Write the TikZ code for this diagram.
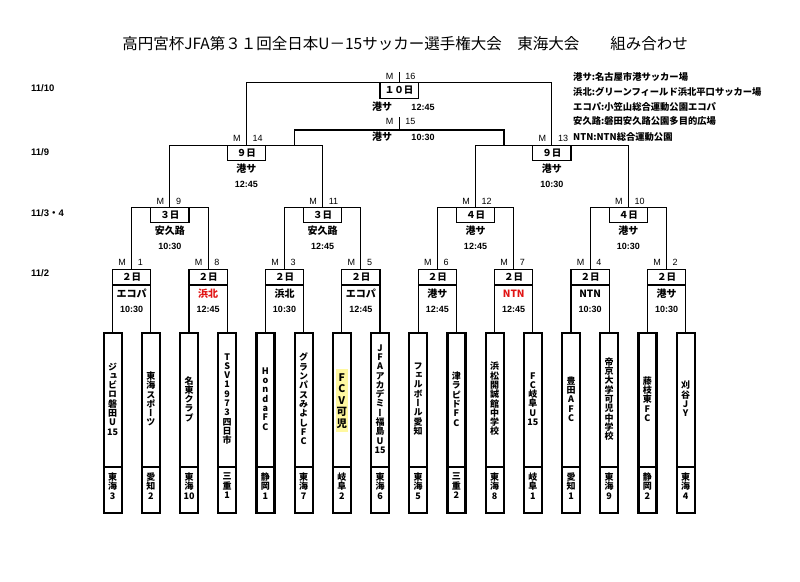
\documentclass[tikz,border=0pt]{standalone}
\usepackage{fontspec}
\setmainfont{Noto Sans CJK JP}
\newfontfamily\jpv[RawFeature=+vert]{Noto Sans CJK JP}
\newfontfamily\arl{Liberation Sans}
\definecolor{hlyellow}{RGB}{255,248,160}
\definecolor{redtxt}{RGB}{225,20,20}
\tikzset{
  brline/.style={line width=1.1pt},
  teambox/.style={line width=2.2pt},
  datebox/.style={draw, line width=1.1pt, minimum width=38.2pt, minimum height=15.6pt,
    inner sep=0pt, outer sep=0pt, anchor=north, font=\bfseries\fontsize{9.5}{10}\selectfont},
  venue/.style={font=\bfseries\fontsize{10}{11}\selectfont, inner sep=0pt},
  tmlab/.style={font=\arl\bfseries\fontsize{9}{10}\selectfont, inner sep=0pt},
  mlab/.style={font=\arl\fontsize{9}{10}\selectfont, inner sep=0pt},
  teamtxt/.style={font=\jpv\bfseries\fontsize{9}{9.3}\selectfont, align=center, inner sep=0pt},
  regtxt/.style={font=\bfseries\fontsize{9}{9.5}\selectfont, align=center, inner sep=0pt},
  datelab/.style={font=\arl\bfseries\fontsize{9.5}{10}\selectfont, anchor=west, inner sep=0pt},
  legend/.style={font=\bfseries\fontsize{9.3}{10}\selectfont, anchor=west, inner sep=0pt},
}
\begin{document}
\begin{tikzpicture}[x=1pt,y=-1pt]
\fill[white] (0,0) rectangle (800,581);
\useasboundingbox (0,0) rectangle (800,581);

% title
\node[inner sep=0pt] (title) at (405,44) {\fontsize{15.5}{16}\selectfont 高円宮杯JFA第３１回全日本U－15サッカー選手権大会　東海大会　　組み合わせ};

% legend
\node[legend] (lg1) at (573,76.5) {港サ:名古屋市港サッカー場};
\node[legend] (lg2) at (573,92) {浜北:グリーンフィールド浜北平口サッカー場};
\node[legend] (lg3) at (573,106.5) {エコパ:小笠山総合運動公園エコパ};
\node[legend] (lg4) at (573,121) {安久路:磐田安久路公園多目的広場};
\node[legend] (lg5) at (573,136.5) {NTN:NTN総合運動公園};

% dates
\node[datelab] (dt1) at (31,88) {11/10};
\node[datelab] (dt2) at (31,152) {11/9};
\node[datelab] (dt3) at (31,213) {11/3{\rmfamily ・}4};
\node[datelab] (dt4) at (31,273) {11/2};

% highlight behind FCV
\fill[hlyellow] (335.8,369) rectangle (347.8,432);

% teams
\foreach \i/\nm/\rg in {
  1/{ジ\\ュ\\ビ\\ロ\\磐\\田\\U\\15}/{東\\海\\3},
  2/{東\\海\\ス\\ポ\\ー\\ツ}/{愛\\知\\2},
  3/{名\\東\\ク\\ラ\\ブ}/{東\\海\\10},
  4/{T\\S\\V\\1\\9\\7\\3\\四\\日\\市}/{三\\重\\1},
  5/{H\\o\\n\\d\\a\\F\\C}/{静\\岡\\1},
  6/{グ\\ラ\\ン\\パ\\ス\\み\\よ\\し\\F\\C}/{東\\海\\7},
  7/{}/{岐\\阜\\2},
  8/{J\\F\\A\\ア\\カ\\デ\\ミ\\ー\\福\\島\\U\\15}/{東\\海\\6},
  9/{フ\\ェ\\ル\\ボ\\ー\\ル\\愛\\知}/{東\\海\\5},
  10/{津\\ラ\\ピ\\ド\\F\\C}/{三\\重\\2},
  11/{浜\\松\\開\\誠\\館\\中\\学\\校}/{東\\海\\8},
  12/{F\\C\\岐\\阜\\U\\15}/{岐\\阜\\1},
  13/{豊\\田\\A\\F\\C}/{愛\\知\\1},
  14/{帝\\京\\大\\学\\可\\児\\中\\学\\校}/{東\\海\\9},
  15/{藤\\枝\\東\\F\\C}/{静\\岡\\2},
  16/{刈\\谷\\J\\Y}/{東\\海\\4}}{
  \pgfmathsetmacro\cx{112.6+38.2*(\i-1)}
  \coordinate (t\i) at (\cx,332.7);
  \draw[teambox] (\cx-9,332.7) rectangle (\cx+9,512.7);
  \draw[teambox] (\cx-9,466.7) -- (\cx+9,466.7);
  \node[teamtxt] (nm\i) at (\cx,399) {\nm};
  \node[regtxt] (rg\i) at (\cx,486) {\rg};
}
\node[teamtxt, font=\jpv\bfseries\fontsize{10.5}{11.5}\selectfont] (nm7b) at (341.8,401) {F\\C\\V\\可\\児};

% match coordinates
\coordinate (f) at (399.1,82.7);
\coordinate (ftop) at (399.1,72);
\coordinate (h) at (399.1,130);
\coordinate (htop) at (399.1,117);
\coordinate (hl) at (294.3,145.3);
\coordinate (hr) at (504,145.3);
\coordinate (s1) at (246.3,145.3);
\coordinate (s2) at (551.9,145.3);
\coordinate (q1) at (169.9,207.3);
\coordinate (q2) at (322.7,207.3);
\coordinate (q3) at (475.5,207.3);
\coordinate (q4) at (628.3,207.3);
\coordinate (r1) at (131.7,269.3);
\coordinate (r2) at (208.1,269.3);
\coordinate (r3) at (284.5,269.3);
\coordinate (r4) at (360.9,269.3);
\coordinate (r5) at (437.3,269.3);
\coordinate (r6) at (513.7,269.3);
\coordinate (r7) at (590.1,269.3);
\coordinate (r8) at (666.5,269.3);

% bracket lines
\draw[brline] (ftop) -- (f);
\draw[brline] (s1) |- (f) -| (s2);
\draw[brline] (htop) -- (h);
\draw[brline] (hl) |- (h) -| (hr);
\draw[brline] (q1) |- (s1) -| (q2);
\draw[brline] (q3) |- (s2) -| (q4);
\draw[brline] (r1) |- (q1) -| (r2);
\draw[brline] (r3) |- (q2) -| (r4);
\draw[brline] (r5) |- (q3) -| (r6);
\draw[brline] (r7) |- (q4) -| (r8);
\draw[brline] (t1) |- (r1) -| (t2);
\draw[brline] (t3) |- (r2) -| (t4);
\draw[brline] (t5) |- (r3) -| (t6);
\draw[brline] (t7) |- (r4) -| (t8);
\draw[brline] (t9) |- (r5) -| (t10);
\draw[brline] (t11) |- (r6) -| (t12);
\draw[brline] (t13) |- (r7) -| (t14);
\draw[brline] (t15) |- (r8) -| (t16);

% final
\node[datebox] (d16) at (f) {１０日};
\node[mlab] (m16a) at (389.6,76.7) {M};
\node[mlab, anchor=west] (m16b) at (405.1,76.7) {16};
\node[venue] (v16) at (382,107) {港サ};
\node[tmlab] (tm16) at (423,107) {12:45};
% 3rd place
\node[mlab] (m15a) at (389.6,121.7) {M};
\node[mlab, anchor=west] (m15b) at (405.1,121.7) {15};
\node[venue] (v15) at (382,137) {港サ};
\node[tmlab] (tm15) at (423,137) {10:30};

% semis
\foreach \k/\x/\m/\tm in {1/246.3/14/12:45, 2/551.9/13/10:30}{
  \node[datebox] (ds\k) at (s\k) {９日};
  \node[mlab] (msa\k) at (\x-9.5,138.3) {M};
  \node[mlab, anchor=west] (msb\k) at (\x+6,138.3) {\m};
  \node[venue] (vs\k) at (\x,168.7) {港サ};
  \node[tmlab] (tms\k) at (\x,184.3) {\tm};
}

% quarter
\foreach \k/\x/\m/\dd/\ven/\tm in {1/169.9/9/３日/安久路/10:30, 2/322.7/11/３日/安久路/12:45,
  3/475.5/12/４日/港サ/12:45, 4/628.3/10/４日/港サ/10:30}{
  \node[datebox] (dq\k) at (q\k) {\dd};
  \node[mlab] (mqa\k) at (\x-9.5,201) {M};
  \node[mlab, anchor=west] (mqb\k) at (\x+6,201) {\m};
  \node[venue] (vq\k) at (\x,231) {\ven};
  \node[tmlab] (tmq\k) at (\x,246.7) {\tm};
}

% first round
\foreach \k/\x/\m/\ven/\tm in {1/131.7/1/エコパ/10:30, 2/208.1/8/{\color{redtxt}浜北}/12:45,
  3/284.5/3/浜北/10:30, 4/360.9/5/エコパ/12:45, 5/437.3/6/港サ/12:45,
  6/513.7/7/{\color{redtxt}NTN}/12:45, 7/590.1/4/NTN/10:30, 8/666.5/2/港サ/10:30}{
  \node[datebox, minimum height=15.7pt] (dr\k) at (r\k) {２日};
  \node[mlab] (mra\k) at (\x-9.5,262.3) {M};
  \node[mlab, anchor=west] (mrb\k) at (\x+6,262.3) {\m};
  \node[venue] (vr\k) at (\x,293.3) {\ven};
  \node[tmlab] (tmr\k) at (\x,309.3) {\tm};
}
\end{tikzpicture}
\end{document}
